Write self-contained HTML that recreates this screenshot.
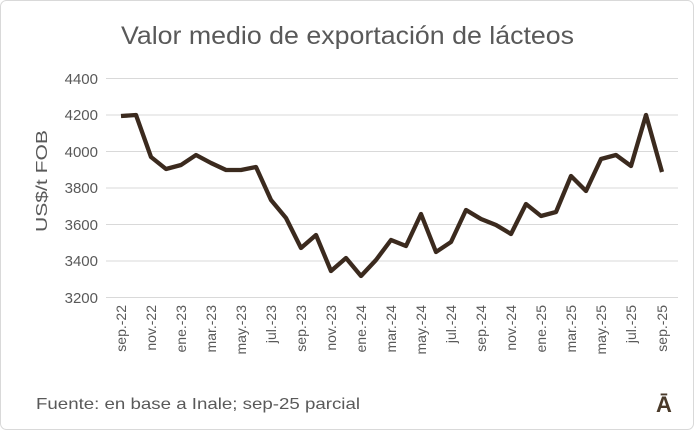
<!DOCTYPE html>
<html><head><meta charset="utf-8"><style>
body{margin:0;background:#fff}
svg{display:block}
text{font-family:"Liberation Sans",sans-serif}
</style></head><body>
<svg width="694" height="430" viewBox="0 0 694 430">
<rect x="0.5" y="0.5" width="693" height="429" rx="6" fill="#fff" stroke="#d9d9d9"/>
<text x="121" y="44" font-size="25" fill="#595959" textLength="453" lengthAdjust="spacingAndGlyphs">Valor medio de exportación de lácteos</text>
<g stroke="#d9d9d9" stroke-width="1">
<line x1="106" x2="678" y1="78.5" y2="78.5"/><line x1="106" x2="678" y1="115" y2="115"/>
<line x1="106" x2="678" y1="151.5" y2="151.5"/><line x1="106" x2="678" y1="188" y2="188"/>
<line x1="106" x2="678" y1="224.5" y2="224.5"/><line x1="106" x2="678" y1="261" y2="261"/>
<line x1="106" x2="678" y1="297.5" y2="297.5"/>
</g>
<g font-size="15" fill="#595959" text-anchor="end">
<text x="98" y="84">4400</text><text x="98" y="120">4200</text><text x="98" y="157">4000</text>
<text x="98" y="193">3800</text><text x="98" y="230">3600</text><text x="98" y="266">3400</text>
<text x="98" y="303">3200</text>
</g>
<text transform="translate(47,232) rotate(-90)" font-size="16" fill="#595959" textLength="102" lengthAdjust="spacingAndGlyphs">US$/t FOB</text>
<polyline fill="none" stroke="#3b2a1e" stroke-width="4.3" stroke-linejoin="round" points="121,116 136,115 151,157 166,169 181,165 196,155 211,163 226,170 241,170 256,167 271,200 286,218 301,248 316,235 331,271 346,258 361,276 376,260 391,240 406,246 421,214 436,252 451,242 466,210 481,219 496,225 511,234 526,204 541,216 556,212 571,176 586,191 601,159 616,155 631,166 646,115 662,172"/>
<g font-size="14" fill="#595959" text-anchor="end">
<text transform="translate(126,305) rotate(-90)">sep.-22</text>
<text transform="translate(156,305) rotate(-90)">nov.-22</text>
<text transform="translate(186,305) rotate(-90)">ene.-23</text>
<text transform="translate(216,305) rotate(-90)">mar.-23</text>
<text transform="translate(246,305) rotate(-90)">may.-23</text>
<text transform="translate(276,305) rotate(-90)">jul.-23</text>
<text transform="translate(306,305) rotate(-90)">sep.-23</text>
<text transform="translate(336,305) rotate(-90)">nov.-23</text>
<text transform="translate(366,305) rotate(-90)">ene.-24</text>
<text transform="translate(396,305) rotate(-90)">mar.-24</text>
<text transform="translate(426,305) rotate(-90)">may.-24</text>
<text transform="translate(456,305) rotate(-90)">jul.-24</text>
<text transform="translate(486,305) rotate(-90)">sep.-24</text>
<text transform="translate(516,305) rotate(-90)">nov.-24</text>
<text transform="translate(546,305) rotate(-90)">ene.-25</text>
<text transform="translate(576,305) rotate(-90)">mar.-25</text>
<text transform="translate(606,305) rotate(-90)">may.-25</text>
<text transform="translate(636,305) rotate(-90)">jul.-25</text>
<text transform="translate(667,305) rotate(-90)">sep.-25</text>
</g>
<text x="36" y="409" font-size="16" fill="#595959" textLength="324" lengthAdjust="spacingAndGlyphs">Fuente: en base a Inale; sep-25 parcial</text>
<text x="664" y="412" text-anchor="middle" font-size="22" font-weight="bold" fill="#4a3a2a">Ā</text>
</svg>
</body></html>
